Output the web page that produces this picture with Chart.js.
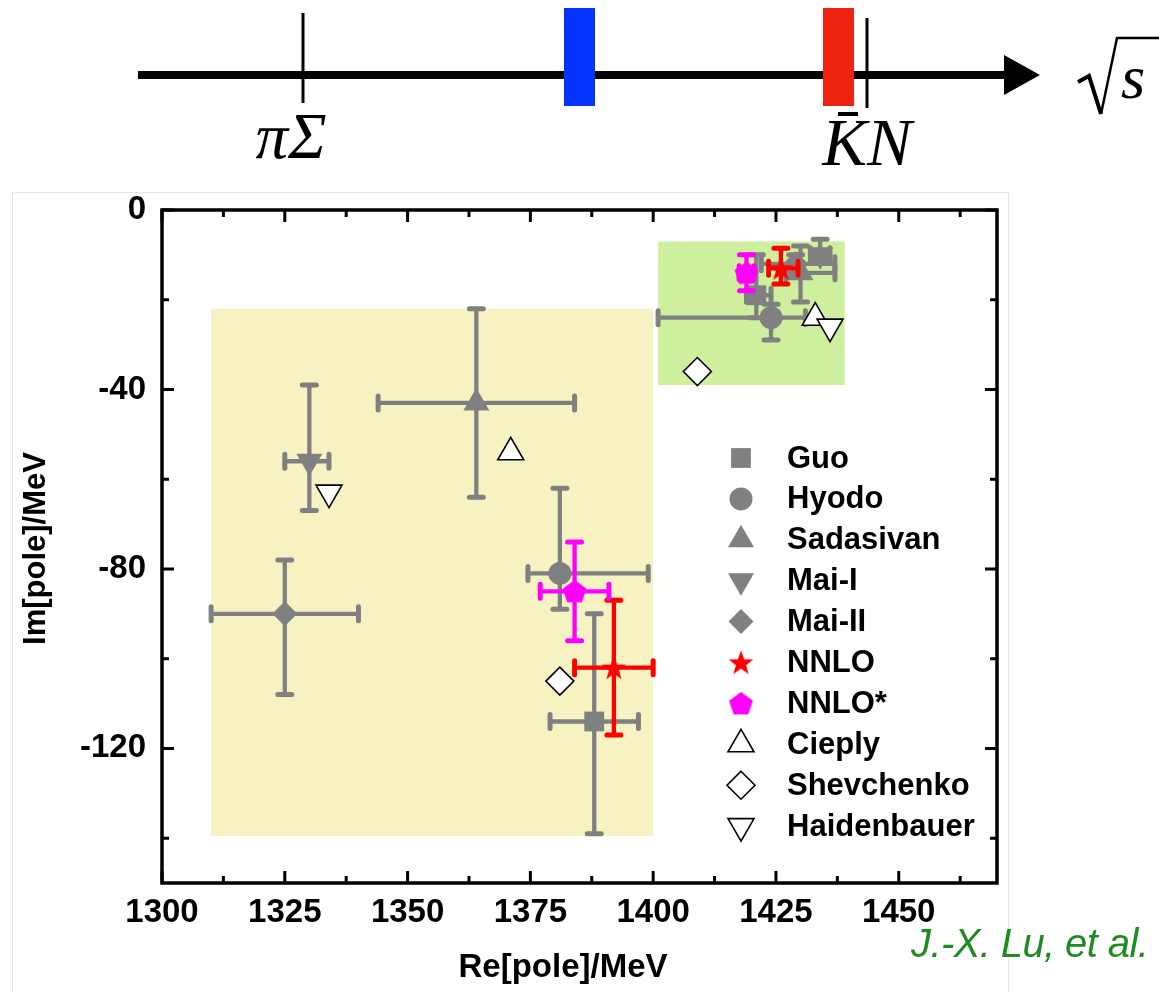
<!DOCTYPE html>
<html><head><meta charset="utf-8">
<script src="https://cdn.jsdelivr.net/npm/chart.js@4.4.1/dist/chart.umd.min.js"></script>
<style>
html,body{margin:0;padding:0;background:#fff;}
#wrap{position:relative;width:1159px;height:992px;overflow:hidden;background:#fff;}
#frame{position:absolute;left:12px;top:192px;width:997px;height:820px;border:1px solid #e6e6e6;box-sizing:border-box;}
#c{position:absolute;left:0;top:0;}
#top{position:absolute;left:0;top:0;}
#credit{position:absolute;left:911px;top:921px;font:italic 40px "Liberation Sans",Arial,sans-serif;color:#1e8c1e;white-space:nowrap;letter-spacing:-0.6px;}
</style></head>
<body><div id="wrap">
<div id="frame"></div>
<canvas id="c" width="1159" height="992" style="width:1159px;height:992px"></canvas>
<svg id="top" width="1159" height="190" xmlns="http://www.w3.org/2000/svg">
  <line x1="138" y1="75" x2="1008" y2="75" stroke="#000" stroke-width="8"/>
  <polygon points="1004,55 1040,75 1004,95" fill="#000"/>
  <line x1="303" y1="13" x2="303" y2="103" stroke="#000" stroke-width="3"/>
  <rect x="564" y="8" width="31" height="98" fill="#0534ff"/>
  <rect x="823" y="8" width="31" height="98" fill="#ee2211"/>
  <line x1="867" y1="18" x2="867" y2="108" stroke="#000" stroke-width="3"/>
  <text x="291" y="158" text-anchor="middle" font-family="Liberation Serif, Times New Roman, serif" font-style="italic" font-size="65">πΣ</text>
  <text x="867" y="165" text-anchor="middle" font-family="Liberation Serif, Times New Roman, serif" font-style="italic" font-size="67">KN</text>
  <line x1="838" y1="114" x2="858" y2="114" stroke="#000" stroke-width="4"/>
  <polyline points="1078,82 1089,76 1101,114" fill="none" stroke="#000" stroke-width="4"/>
  <polyline points="1101,114 1117,38 1159,38" fill="none" stroke="#000" stroke-width="2.5"/>
  <text x="1121" y="98" font-family="Liberation Serif, Times New Roman, serif" font-style="italic" font-size="62">s</text>
</svg>
<div id="credit">J.-X. Lu, et al.</div>
</div>
<script>
// ---------- axes ----------
const xMin = 1300, xMax = 1470, yMin = -150, yMax = 0;
const xTickValues = [1300, 1325, 1350, 1375, 1400, 1425, 1450];
const xMinorValues = [1312.5, 1337.5, 1362.5, 1387.5, 1412.5, 1437.5, 1462.5];
const yTickValues = [0, -40, -80, -120];
const yMinorValues = [-20, -60, -100, -140];
const xTitle = 'Re[pole]/MeV', yTitle = 'Im[pole]/MeV';

// ---------- shaded regions (Re range, Im range) ----------
const yellowRe = [1310, 1400], yellowIm = [-139.5, -22];
const greenRe = [1401, 1439], greenIm = [-39, -7];

// ---------- series ----------
const seriesNames = ['Guo','Hyodo','Sadasivan','Mai-I','Mai-II','NNLO','NNLO*','Cieply','Shevchenko','Haidenbauer'];

const guoRe = [1388, 1421], guoIm = [-114, -19];
const guoReLo = [1379, 1419], guoReHi = [1397, 1424], guoImLo = [-139, -24], guoImHi = [-90, -10];

const hyodoRe = [1381, 1424], hyodoIm = [-81, -24];
const hyodoReLo = [1374.5, 1401], hyodoReHi = [1399, 1431], hyodoImLo = [-89, -29], hyodoImHi = [-62, -21];

const sadasivanRe = [1364, 1430], sadasivanIm = [-43, -14];
const sadasivanReLo = [1344, 1427], sadasivanReHi = [1384, 1437], sadasivanImLo = [-64, -20.5], sadasivanImHi = [-22, -8];

const maiIRe = [1330, 1434], maiIIm = [-56, -10];
const maiIReLo = [1325, 1432], maiIReHi = [1334, 1436], maiIImLo = [-67, -11], maiIImHi = [-39, -6.5];

const maiIIRe = [1325, 1429], maiIIIm = [-90, -12];
const maiIIReLo = [1310, 1422], maiIIReHi = [1340, 1437], maiIIImLo = [-108, -15], maiIIImHi = [-78, -10];

const nnloRe = [1392, 1426], nnloIm = [-102, -13];
const nnloReLo = [1384, 1423.5], nnloReHi = [1400, 1429.5], nnloImLo = [-117, -16.5], nnloImHi = [-87, -8.5];

const nnloStarRe = [1384, 1419], nnloStarIm = [-85, -14];
const nnloStarReLo = [1377, 1417.5], nnloStarReHi = [1391, 1420.5], nnloStarImLo = [-96, -18], nnloStarImHi = [-74, -10];

const cieplyRe = [1371, 1433], cieplyIm = [-54, -24];
const shevchenkoRe = [1381, 1409], shevchenkoIm = [-105, -36];
const haidenbauerRe = [1334, 1436], haidenbauerIm = [-63, -26];

// ---------- marker images ----------
function makeStar(color, R, r) {
  const c = document.createElement('canvas');
  const s = Math.ceil(2 * R + 2); c.width = s; c.height = s;
  const g = c.getContext('2d'); g.fillStyle = color; g.beginPath();
  for (let i = 0; i < 10; i++) {
    const a = -Math.PI / 2 + i * Math.PI / 5, rr = i % 2 ? r : R;
    const px = s / 2 + rr * Math.cos(a), py = s / 2 + 1 + rr * Math.sin(a);
    i ? g.lineTo(px, py) : g.moveTo(px, py);
  }
  g.closePath(); g.fill(); return c;
}
function makePentagon(color, R) {
  const c = document.createElement('canvas');
  const s = Math.ceil(2 * R + 2); c.width = s; c.height = s;
  const g = c.getContext('2d'); g.fillStyle = color; g.beginPath();
  for (let i = 0; i < 5; i++) {
    const a = -Math.PI / 2 + i * 2 * Math.PI / 5;
    const px = s / 2 + R * Math.cos(a), py = s / 2 + 1 + R * Math.sin(a);
    i ? g.lineTo(px, py) : g.moveTo(px, py);
  }
  g.closePath(); g.fill(); return c;
}
const starImg = makeStar('#ff0000', 13, 5.3);
const pentImg = makePentagon('#ff00ff', 12.5);

const GRAY = '#808080';
const pts = (re, im) => re.map((x, i) => ({ x, y: im[i] }));

const specs = [
  { re: guoRe, im: guoIm, err: [guoReLo, guoReHi, guoImLo, guoImHi], color: GRAY, style: 'rect', r: 14, rot: 0, fill: GRAY, bw: 0 },
  { re: hyodoRe, im: hyodoIm, err: [hyodoReLo, hyodoReHi, hyodoImLo, hyodoImHi], color: GRAY, style: 'circle', r: 11.5, rot: 0, fill: GRAY, bw: 0 },
  { re: sadasivanRe, im: sadasivanIm, err: [sadasivanReLo, sadasivanReHi, sadasivanImLo, sadasivanImHi], color: GRAY, style: 'triangle', r: 15, rot: 0, fill: GRAY, bw: 0 },
  { re: maiIRe, im: maiIIm, err: [maiIReLo, maiIReHi, maiIImLo, maiIImHi], color: GRAY, style: 'triangle', r: 15, rot: 180, fill: GRAY, bw: 0 },
  { re: maiIIRe, im: maiIIIm, err: [maiIIReLo, maiIIReHi, maiIIImLo, maiIIImHi], color: GRAY, style: 'rectRot', r: 12.5, rot: 0, fill: GRAY, bw: 0 },
  { re: nnloRe, im: nnloIm, err: [nnloReLo, nnloReHi, nnloImLo, nnloImHi], color: '#ff0000', style: starImg, r: 13, rot: 0, fill: '#ff0000', bw: 0 },
  { re: nnloStarRe, im: nnloStarIm, err: [nnloStarReLo, nnloStarReHi, nnloStarImLo, nnloStarImHi], color: '#ff00ff', style: pentImg, r: 12.5, rot: 0, fill: '#ff00ff', bw: 0 },
  { re: cieplyRe, im: cieplyIm, err: null, color: '#000', style: 'triangle', r: 15, rot: 0, fill: '#fff', bw: 1.6 },
  { re: shevchenkoRe, im: shevchenkoIm, err: null, color: '#000', style: 'rectRot', r: 14, rot: 0, fill: '#fff', bw: 1.6 },
  { re: haidenbauerRe, im: haidenbauerIm, err: null, color: '#000', style: 'triangle', r: 15, rot: 180, fill: '#fff', bw: 1.6 }
];

const datasets = specs.map((s, i) => ({
  label: seriesNames[i],
  data: pts(s.re, s.im),
  err: s.err,
  errColor: s.color,
  order: specs.length - i,
  pointStyle: s.style,
  pointRadius: s.r,
  pointRotation: s.rot,
  pointBackgroundColor: s.fill,
  pointBorderColor: s.color,
  pointBorderWidth: s.bw,
  showLine: false
}));

// own marker drawing for the legend
function drawMarker(ctx, s, x, y) {
  ctx.save();
  if (typeof s.style !== 'string') { ctx.drawImage(s.style, x - s.style.width / 2, y - s.style.height / 2); ctx.restore(); return; }
  ctx.fillStyle = s.fill; ctx.strokeStyle = s.color; ctx.lineWidth = s.bw;
  ctx.beginPath();
  const r = s.r;
  if (s.style === 'circle') ctx.arc(x, y, r, 0, Math.PI * 2);
  else if (s.style === 'rect') { const h = r * Math.SQRT1_2; ctx.rect(x - h, y - h, 2 * h, 2 * h); }
  else if (s.style === 'rectRot') { ctx.moveTo(x, y - r); ctx.lineTo(x + r, y); ctx.lineTo(x, y + r); ctx.lineTo(x - r, y); ctx.closePath(); }
  else if (s.style === 'triangle') {
    let a = s.rot * Math.PI / 180;
    for (let k = 0; k < 3; k++) { const px = x + Math.sin(a) * r, py = y - Math.cos(a) * r; k ? ctx.lineTo(px, py) : ctx.moveTo(px, py); a += 2 * Math.PI / 3; }
    ctx.closePath();
  }
  ctx.fill(); if (s.bw > 0) ctx.stroke();
  ctx.restore();
}

const FONT = '"Liberation Sans", Arial, sans-serif';

const deco = {
  id: 'deco',
  beforeDatasetsDraw(chart) {
    const { ctx, scales: { x, y } } = chart;
    ctx.save();
    const box = (re, im, col) => {
      const x0 = x.getPixelForValue(re[0]), x1 = x.getPixelForValue(re[1]);
      const y0 = y.getPixelForValue(im[1]), y1 = y.getPixelForValue(im[0]);
      ctx.fillStyle = col; ctx.fillRect(x0, y0, x1 - x0, y1 - y0);
    };
    box(yellowRe, yellowIm, '#f6f2c2');
    box(greenRe, greenIm, '#ceef9e');
    ctx.restore();
  },
  beforeDatasetDraw(chart, args) {
    const ds = chart.data.datasets[args.index];
    if (!ds.err) return;
    const { ctx, scales: { x, y } } = chart;
    const [reLo, reHi, imLo, imHi] = ds.err;
    ctx.save();
    ctx.strokeStyle = ds.errColor;
    ds.data.forEach((p, i) => {
      const px = x.getPixelForValue(p.x), py = y.getPixelForValue(p.y);
      const xl = x.getPixelForValue(reLo[i]), xh = x.getPixelForValue(reHi[i]);
      const yl = y.getPixelForValue(imLo[i]), yh = y.getPixelForValue(imHi[i]);
      ctx.lineWidth = 4.3; ctx.lineCap = 'butt';
      ctx.beginPath();
      ctx.moveTo(xl, py); ctx.lineTo(xh, py);
      ctx.moveTo(px, yl); ctx.lineTo(px, yh);
      ctx.stroke();
      ctx.lineWidth = 5; ctx.lineCap = 'round';
      const c = 7;
      ctx.beginPath();
      ctx.moveTo(xl, py - c); ctx.lineTo(xl, py + c);
      ctx.moveTo(xh, py - c); ctx.lineTo(xh, py + c);
      ctx.moveTo(px - c, yl); ctx.lineTo(px + c, yl);
      ctx.moveTo(px - c, yh); ctx.lineTo(px + c, yh);
      ctx.stroke();
    });
    ctx.restore();
  },
  afterDraw(chart) {
    const { ctx, chartArea: ca, scales: { x, y } } = chart;
    ctx.save();
    ctx.strokeStyle = '#000';
    ctx.lineWidth = 3.5;
    ctx.strokeRect(ca.left, ca.top, ca.right - ca.left, ca.bottom - ca.top);
    ctx.lineWidth = 3; ctx.lineCap = 'butt';
    const tx = (vals, len) => vals.forEach(v => {
      const p = x.getPixelForValue(v);
      ctx.beginPath(); ctx.moveTo(p, ca.bottom); ctx.lineTo(p, ca.bottom - len);
      ctx.moveTo(p, ca.top); ctx.lineTo(p, ca.top + len); ctx.stroke();
    });
    const ty = (vals, len) => vals.forEach(v => {
      const p = y.getPixelForValue(v);
      ctx.beginPath(); ctx.moveTo(ca.left, p); ctx.lineTo(ca.left + len, p);
      ctx.moveTo(ca.right, p); ctx.lineTo(ca.right - len, p); ctx.stroke();
    });
    tx(xTickValues, 12); tx(xMinorValues, 7);
    ty(yTickValues, 12); ty(yMinorValues, 7);

    // axis titles
    ctx.fillStyle = '#000';
    ctx.textAlign = 'center'; ctx.textBaseline = 'middle';
    ctx.font = 'bold 33px ' + FONT;
    ctx.fillText(xTitle, ca.left + 401, 968);
    ctx.save();
    ctx.font = 'bold 31px ' + FONT;
    ctx.translate(36, (ca.top + ca.bottom) / 2 + 2);
    ctx.rotate(-Math.PI / 2);
    ctx.fillText(yTitle, 0, 0);
    ctx.restore();

    // legend
    const lx = ca.left + 579, ly = ca.top + 248, step = 40.9;
    ctx.font = 'bold 31px ' + FONT;
    ctx.textBaseline = 'middle'; ctx.textAlign = 'left';
    specs.forEach((s, i) => {
      const yy = ly + i * step;
      drawMarker(ctx, s, lx, yy);
      ctx.fillStyle = '#000';
      ctx.fillText(seriesNames[i], lx + 46, yy + 1);
    });
    ctx.restore();
  }
};

const tickFont = { family: FONT, size: 33, weight: 'bold' };
new Chart(document.getElementById('c'), {
  type: 'scatter',
  data: { datasets },
  options: {
    responsive: false,
    animation: false,
    events: [],
    layout: { padding: { left: 0, top: 210, right: 162, bottom: 0 } },
    plugins: { legend: { display: false }, tooltip: { enabled: false } },
    scales: {
      x: {
        type: 'linear', min: xMin, max: xMax,
        afterBuildTicks: s => { s.ticks = xTickValues.map(v => ({ value: v })); },
        afterFit: s => { s.height = 109; },
        grid: { display: false, drawTicks: false },
        border: { display: false },
        ticks: { font: tickFont, color: '#000', padding: 10, maxRotation: 0, autoSkip: false, callback: v => String(v) },
        title: { display: false }
      },
      y: {
        type: 'linear', min: yMin, max: yMax,
        afterBuildTicks: s => { s.ticks = yTickValues.map(v => ({ value: v })); },
        afterFit: s => { s.width = 162; },
        grid: { display: false, drawTicks: false },
        border: { display: false },
        ticks: { font: tickFont, color: '#000', padding: 16, autoSkip: false, callback: v => String(v) },
        title: { display: false }
      }
    }
  },
  plugins: [deco]
});
</script>
</body></html>
